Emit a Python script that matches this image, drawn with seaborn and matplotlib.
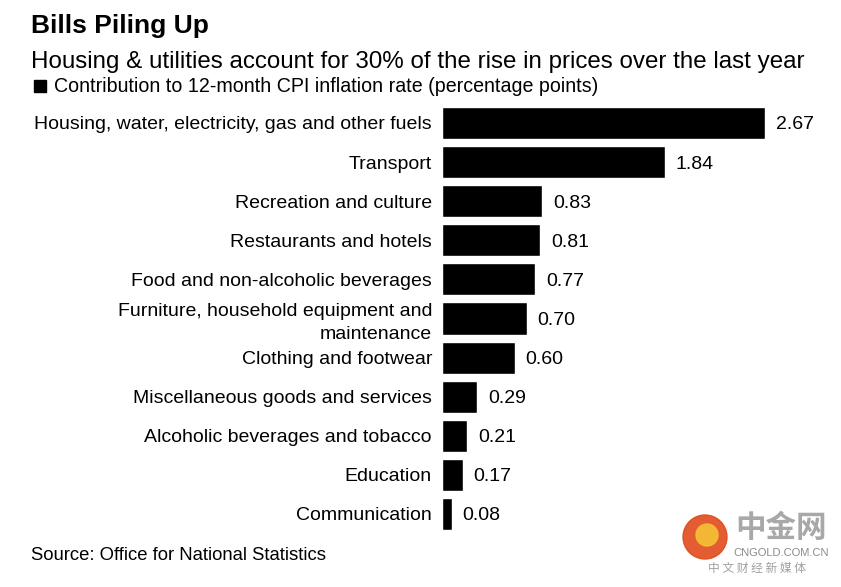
import matplotlib
matplotlib.use("Agg")
import matplotlib.pyplot as plt
import seaborn as sns
import pandas as pd
from matplotlib.patches import Circle, Rectangle

categories = [
    "Housing, water, electricity, gas and other fuels",
    "Transport",
    "Recreation and culture",
    "Restaurants and hotels",
    "Food and non-alcoholic beverages",
    "Furniture, household equipment and\nmaintenance",
    "Clothing and footwear",
    "Miscellaneous goods and services",
    "Alcoholic beverages and tobacco",
    "Education",
    "Communication",
]
values = [2.67, 1.84, 0.83, 0.81, 0.77, 0.70, 0.60, 0.29, 0.21, 0.17, 0.08]
value_labels = ["2.67", "1.84", "0.83", "0.81", "0.77", "0.70", "0.60", "0.29", "0.21", "0.17", "0.08"]

df = pd.DataFrame({"category": categories, "value": values})

sns.set_theme(style="white")
plt.rcParams["font.family"] = ["Liberation Sans", "DejaVu Sans"]

W, H = 841, 587
fig = plt.figure(figsize=(W / 100, H / 100), dpi=100)
top_px = 123 - 39.1 / 2
bot_px = 514 + 39.1 / 2
ax = fig.add_axes([442 / W, 1 - bot_px / H, (765 - 442) / W, (bot_px - top_px) / H])

sns.barplot(data=df, x="value", y="category", color="black", ax=ax,
            width=0.82, saturation=1, orient="h")
ax.set_xlim(0, 2.67)
ax.set_ylim(len(values) - 0.5, -0.5)
for s in ax.spines.values():
    s.set_visible(False)
ax.set_xticks([])
ax.set_xlabel("")
ax.set_ylabel("")
ax.tick_params(axis="y", length=0, pad=7.2, labelsize=14.0, labelcolor="black")
ax.set_yticks(range(len(categories)), labels=categories, linespacing=1.45)

for i, (v, t) in enumerate(zip(values, value_labels)):
    ax.text(v + 0.09, i, t, va="center_baseline", ha="left", fontsize=14.0, color="black", clip_on=False)

fig.text(31 / W, 1 - 26 / H, "Bills Piling Up", fontsize=19, fontweight="bold",
         va="center", ha="left", color="black")
fig.text(31 / W, 1 - 62 / H, "Housing & utilities account for 30% of the rise in prices over the last year",
         fontsize=17.4, va="center", ha="left", color="black")
fig.patches.append(Rectangle((34 / W, 1 - 92 / H), 12 / W, 12 / H, transform=fig.transFigure,
                             color="black"))
fig.text(54 / W, 1 - 86 / H, "Contribution to 12-month CPI inflation rate (percentage points)",
         fontsize=14.1, va="center", ha="left", color="black")
fig.text(31 / W, 1 - 556 / H, "Source: Office for National Statistics",
         fontsize=13.3, va="center", ha="left", color="black")

# watermark
fig.patches.append(Circle((7.05, (H - 537) / 100), 0.22, transform=fig.dpi_scale_trans,
                          color="#e04a1c", alpha=0.9))
fig.patches.append(Circle((7.07, (H - 535) / 100), 0.11, transform=fig.dpi_scale_trans,
                          color="#f7c236", alpha=0.9))
fig.text(781 / W, 1 - 528 / H, "中金网", fontsize=22, fontweight="bold", color="#a8a8a8",
         va="center", ha="center", family=["Noto Sans CJK SC", "DejaVu Sans"])
fig.text(781 / W, 1 - 553 / H, "CNGOLD.COM.CN", fontsize=8, color="#8a8a8a",
         va="center", ha="center")
fig.text(757 / W, 1 - 568 / H, "中 文 财 经 新 媒 体", fontsize=8.5, color="#a0a0a0",
         va="center", ha="center", family=["Noto Sans CJK SC", "DejaVu Sans"])

fig.savefig("out.png", dpi=100, facecolor="white")
